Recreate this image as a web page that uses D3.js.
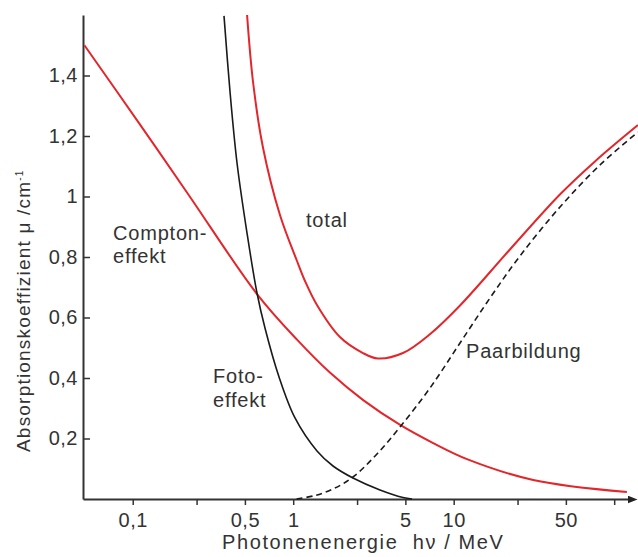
<!DOCTYPE html>
<html>
<head>
<meta charset="utf-8">
<script src="https://cdn.jsdelivr.net/npm/d3@7"></script>
<style>
  body { margin: 0; background: #fff; }
  text { font-family: "Liberation Sans", Arial, sans-serif; fill: #333; }
</style>
</head>
<body>
<div id="chart"></div>
<script>
// energies in MeV, absorption coefficient in 1/cm
var comptonE  = [0.05, 0.11, 0.22, 0.6, 1.06, 1.7, 2.73, 4.64, 7.45, 12.1, 31.3, 120];
var comptonMu = [1.50, 1.241, 1.01, 0.675, 0.526, 0.417, 0.327, 0.245, 0.185, 0.132, 0.063, 0.023];

var fotoE  = [0.3705, 0.404, 0.4466, 0.5154, 0.5948, 0.667, 0.816, 1.026, 1.407, 1.77, 2.358, 3.474, 4.83, 5.5];
var fotoMu = [1.597, 1.3455, 1.1107, 0.8793, 0.681, 0.5653, 0.4033, 0.2678, 0.1587, 0.1091, 0.0694, 0.0298, 0.005, 0];

var totalE  = [0.516, 0.562, 0.649, 0.827, 1.056, 1.184, 1.406, 1.955, 2.72, 3.37, 4.83, 7.14, 10.95, 22.4, 45.9, 75.9, 140.6];
var totalMu = [1.6, 1.3785, 1.1603, 0.9388, 0.7868, 0.7207, 0.6413, 0.5355, 0.4826, 0.4645, 0.4826, 0.5455, 0.6397, 0.8248, 1.0066, 1.116, 1.236];

var paarE  = [1.05, 1.367, 1.77, 2.358, 3.327, 4.628, 7.117, 10.95, 16.84, 25.89, 45.95, 81.55, 140.7];
var paarMu = [0, 0.0116, 0.0331, 0.0727, 0.1488, 0.238, 0.3669, 0.5157, 0.6645, 0.8033, 0.9653, 1.1041, 1.2132];

var xTicks = [0.1, 0.25, 0.5, 1, 2.5, 5, 10, 25, 50, 100];
var xLabelled = [0.1, 0.5, 1, 5, 10, 50];
var yTicks = [0.2, 0.4, 0.6, 0.8, 1, 1.2, 1.4];

var width = 638, height = 557;

var svg = d3.select("#chart")
  .append("svg")
    .attr("width", width)
    .attr("height", height);

var x = d3.scaleLog()
  .domain([0.049, 131])
  .range([83, 633]);

var y = d3.scaleLinear()
  .domain([0, 1.6])
  .range([499, 15]);

var comma = function(d) { return String(d).replace(".", ","); };

// arrow head for the energy axis
svg.append("defs").append("marker")
    .attr("id", "arrow")
    .attr("viewBox", "0 0 10 8")
    .attr("refX", 6)
    .attr("refY", 4)
    .attr("markerWidth", 10)
    .attr("markerHeight", 8)
    .attr("markerUnits", "userSpaceOnUse")
    .attr("orient", "auto")
  .append("path")
    .attr("d", "M0,0L10,4L0,8Z")
    .attr("fill", "#222");

// X axis
var gx = svg.append("g")
    .attr("transform", "translate(0," + y(0) + ")")
    .call(d3.axisBottom(x)
      .tickValues(xTicks)
      .tickSizeInner(6)
      .tickSizeOuter(0)
      .tickPadding(8)
      .tickFormat(function(d) { return xLabelled.indexOf(d) >= 0 ? comma(d) : ""; }));
gx.select(".domain")
    .attr("stroke", "#333")
    .attr("stroke-width", 2)
    .attr("marker-end", "url(#arrow)");
gx.selectAll(".tick line").attr("stroke", "#333").attr("stroke-width", 1.5);
gx.selectAll(".tick text").style("font-size", "20px").style("letter-spacing", "0.5px").attr("fill", "#333");

// Y axis
var gy = svg.append("g")
    .attr("transform", "translate(" + x.range()[0] + ",0)")
    .call(d3.axisLeft(y)
      .tickValues(yTicks)
      .tickSizeInner(-7)
      .tickSizeOuter(0)
      .tickPadding(5)
      .tickFormat(comma));
gy.select(".domain").attr("stroke", "#333").attr("stroke-width", 2);
gy.selectAll(".tick line").attr("stroke", "#333").attr("stroke-width", 1.5);
gy.selectAll(".tick text").style("font-size", "20px").style("letter-spacing", "0.5px").attr("fill", "#333");

// axis titles
svg.append("text")
    .attr("x", 222)
    .attr("y", 549)
    .style("font-size", "20px")
    .style("letter-spacing", "1.6px")
    .style("white-space", "pre")
    .text("Photonenenergie  h\u03bd / MeV");

var ytitle = svg.append("text")
    .attr("transform", "translate(30,452)rotate(-90)")
    .style("font-size", "19px")
    .style("letter-spacing", "1.2px");
ytitle.append("tspan").text("Absorptionskoeffizient \u03bc /cm");
ytitle.append("tspan").attr("dy", -7).style("font-size", "10px").text("-1");

// curves
var line = d3.line()
    .x(function(d) { return x(d[0]); })
    .y(function(d) { return y(d[1]); })
    .curve(d3.curveCatmullRom.alpha(0.5));

var series = [
  {E: comptonE, mu: comptonMu, color: "#e3262b", width: 2, dash: null},
  {E: totalE,   mu: totalMu,   color: "#e3262b", width: 2, dash: null},
  {E: fotoE,    mu: fotoMu,    color: "#1a1a1a", width: 1.6, dash: null},
  {E: paarE,    mu: paarMu,    color: "#1a1a1a", width: 1.6, dash: "6,4"}
];

svg.append("g")
  .selectAll("path")
  .data(series)
  .enter().append("path")
    .attr("d", function(s) { return line(s.E.map(function(e, i) { return [e, s.mu[i]]; })); })
    .attr("fill", "none")
    .attr("stroke", function(s) { return s.color; })
    .attr("stroke-width", function(s) { return s.width; })
    .attr("stroke-dasharray", function(s) { return s.dash; });

// curve labels
var labels = [
  {x: 113, y: 240, t: "Compton-"},
  {x: 113, y: 263, t: "effekt"},
  {x: 306, y: 227, t: "total"},
  {x: 213, y: 383, t: "Foto-"},
  {x: 213, y: 407, t: "effekt"},
  {x: 466, y: 358, t: "Paarbildung"}
];
svg.append("g")
  .selectAll("text")
  .data(labels)
  .enter().append("text")
    .attr("x", function(d) { return d.x; })
    .attr("y", function(d) { return d.y; })
    .style("font-size", "20px")
    .style("letter-spacing", "0.8px")
    .text(function(d) { return d.t; });
</script>
</body>
</html>
